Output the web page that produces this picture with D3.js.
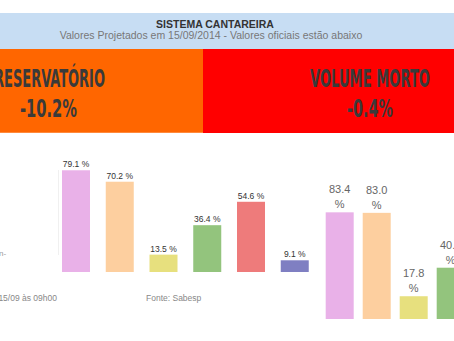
<!DOCTYPE html>
<html><head><meta charset="utf-8">
<script src="https://cdn.jsdelivr.net/npm/d3@7"></script>
<style>html,body{margin:0;padding:0;background:#fff;overflow:hidden}svg{display:block}</style>
</head><body>
<svg id="c" width="454" height="341"></svg>
<script>
const headerTitle = "SISTEMA CANTAREIRA";
const headerSubtitle = "Valores Projetados em 15/09/2014 - Valores oficiais estão abaixo";
const panelLabels = ["RESERVATÓRIO", "VOLUME MORTO"];
const panelValues = ["-10.2%", "-0.4%"];
const leftValues = [79.1, 70.2, 13.5, 36.4, 54.6, 9.1];
const rightValues = [83.4, 83.0, 17.8, 40.1];
const barColors = ["#e9b1e8", "#fdcf9f", "#e7e07e", "#93c47d", "#ee7b7b", "#7f7fc2"];
const footTexts = ["15/09 às 09h00", "Fonte: Sabesp"];

const svg = d3.select("#c");

// header
svg.append("rect").attr("x",0).attr("y",13).attr("width",454).attr("height",36).attr("fill","#c7ddf3");
svg.append("text").attr("x",215).attr("y",27.5).attr("text-anchor","middle")
  .attr("font-family","Liberation Sans, Arial, sans-serif").attr("font-weight","bold")
  .attr("font-size",10.5).attr("fill","#333").text(headerTitle);
svg.append("text").attr("x",211).attr("y",38.5).attr("text-anchor","middle")
  .attr("font-family","Liberation Sans, Arial, sans-serif")
  .attr("font-size",10.5).attr("fill","#777").text(headerSubtitle);

// panels
svg.append("rect").attr("x",0).attr("y",49).attr("width",203).attr("height",84).attr("fill","#ff6600");
svg.append("rect").attr("x",203).attr("y",49).attr("width",251).attr("height",84).attr("fill","#ff0000");
svg.append("rect").attr("x",0).attr("y",132).attr("width",203).attr("height",1).attr("fill","#ff8a3d");

const bigFont = "'Liberation Sans Narrow','DejaVu Sans Condensed','Arial Narrow',sans-serif";
const bigTexts = [
  {t: panelLabels[0], x: -6, y: 87, w: 111},
  {t: panelValues[0], x: 20, y: 117, w: 57},
  {t: panelLabels[1], x: 310, y: 87, w: 120},
  {t: panelValues[1], x: 347, y: 117, w: 46}
];
bigTexts.forEach(b => {
  svg.append("text").attr("x",b.x).attr("y",b.y)
    .attr("font-family",bigFont).attr("font-weight","bold").attr("font-size",24).attr("fill","#3a3a3a")
    .attr("textLength",b.w).attr("lengthAdjust","spacingAndGlyphs").text(b.t);
});

// left chart
const xL = d3.scaleBand().domain(d3.range(leftValues.length)).range([62, 308.75]).paddingInner(0.36).paddingOuter(0);
const yL = d3.scaleLinear().domain([0,100]).range([272, 143.4]);
svg.append("line").attr("x1",58.5).attr("x2",58.5).attr("y1",170).attr("y2",255).attr("stroke","#f0f0f0");
svg.append("text").attr("x",-1).attr("y",256).attr("font-family","Liberation Sans, Arial, sans-serif")
  .attr("font-size",8).attr("fill","#999").text("n-");
svg.selectAll(".bl").data(leftValues).enter().append("rect")
  .attr("x",(d,i)=>xL(i)).attr("width",xL.bandwidth())
  .attr("y",d=>yL(d)).attr("height",d=>yL(0)-yL(d))
  .attr("fill",(d,i)=>barColors[i]);
svg.selectAll(".tl").data(leftValues).enter().append("text")
  .attr("x",(d,i)=>xL(i)+xL.bandwidth()/2).attr("y",d=>yL(d)-3)
  .attr("text-anchor","middle").attr("font-family","Liberation Sans, Arial, sans-serif")
  .attr("font-size",8.5).attr("fill","#333").text(d=>d.toFixed(1)+" %");
svg.append("text").attr("x",57).attr("y",301).attr("text-anchor","end")
  .attr("font-family","Liberation Sans, Arial, sans-serif").attr("font-size",8.5).attr("fill","#888").text(footTexts[0]);
svg.append("text").attr("x",146).attr("y",301)
  .attr("font-family","Liberation Sans, Arial, sans-serif").attr("font-size",8.5).attr("fill","#888").text(footTexts[1]);

// right chart
const xR = d3.scaleBand().domain(d3.range(rightValues.length)).range([325.7, 464.7]).paddingInner(0.2432).paddingOuter(0);
const yR = d3.scaleLinear().domain([0,100]).range([319, 191.1]);
svg.selectAll(".br").data(rightValues).enter().append("rect")
  .attr("x",(d,i)=>xR(i)).attr("width",xR.bandwidth())
  .attr("y",d=>yR(d)).attr("height",d=>yR(0)-yR(d))
  .attr("fill",(d,i)=>barColors[i]);
const lab = svg.selectAll(".tr").data(rightValues).enter().append("text")
  .attr("text-anchor","middle").attr("font-family","Liberation Sans, Arial, sans-serif")
  .attr("font-size",11).attr("fill","#666");
lab.append("tspan").attr("x",(d,i)=>xR(i)+xR.bandwidth()/2).attr("y",d=>yR(d)-19).text(d=>d.toFixed(1));
lab.append("tspan").attr("x",(d,i)=>xR(i)+xR.bandwidth()/2).attr("y",d=>yR(d)-4).text("%");
</script>
</body></html>
